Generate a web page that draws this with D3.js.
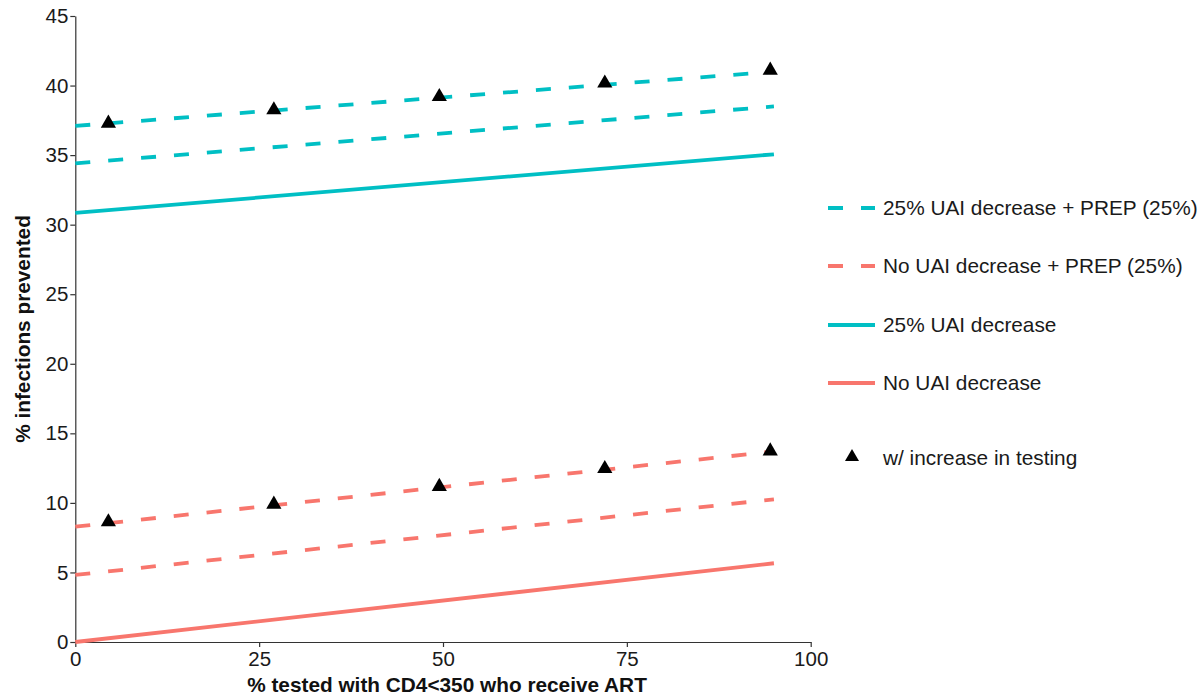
<!DOCTYPE html>
<html>
<head>
<meta charset="utf-8">
<script src="https://cdn.jsdelivr.net/npm/d3@7"></script>
<style>
  body { margin: 0; background: #fff; }
  svg { font-family: "Liberation Sans", Arial, sans-serif; }
</style>
</head>
<body>
<svg id="chart" width="1203" height="695"></svg>
<script>
// line end points (x = % tested receiving ART)
const lineX = [0, 95];
const noUai = [0, 5.66];
const noUaiPrepLow = [4.82, 10.26];
const noUaiPrepHigh = [8.29, 13.7];
const uai25 = [30.84, 35.06];
const uai25PrepLow = [34.41, 38.5];
const uai25PrepHigh = [37.1, 41.0];

// triangles: with increase in testing
const triX = [4.5, 27, 49.5, 72, 94.5];
const triLow = [8.7, 9.97, 11.24, 12.53, 13.8];
const triHigh = [37.36, 38.32, 39.27, 40.24, 41.17];

const xTicks = [0, 25, 50, 75, 100];
const yTicks = [0, 5, 10, 15, 20, 25, 30, 35, 40, 45];

const SALMON = "#F8766D";
const CYAN = "#00BFC4";

const legendItems = [
    { label: "25% UAI decrease + PREP (25%)", color: CYAN, dashed: true },
    { label: "No UAI decrease + PREP (25%)", color: SALMON, dashed: true },
    { label: "25% UAI decrease", color: CYAN, dashed: false },
    { label: "No UAI decrease", color: SALMON, dashed: false }
];

const series = [
    { y: noUai, color: SALMON, dashed: false },
    { y: noUaiPrepLow, color: SALMON, dashed: true },
    { y: noUaiPrepHigh, color: SALMON, dashed: true },
    { y: uai25, color: CYAN, dashed: false },
    { y: uai25PrepLow, color: CYAN, dashed: true },
    { y: uai25PrepHigh, color: CYAN, dashed: true }
];

const svg = d3.select("#chart");

const x = d3.scaleLinear().domain([0, 100]).range([75.3, 810.7]);
const y = d3.scaleLinear().domain([0, 45]).range([642, 16]);

// axes
const xAxis = svg.append("g")
    .attr("transform", "translate(0," + y(0) + ")")
    .call(d3.axisBottom(x).tickValues(xTicks).tickSize(5).tickPadding(1).tickSizeOuter(0));
const yAxis = svg.append("g")
    .attr("transform", "translate(" + x(0) + ",0)")
    .call(d3.axisLeft(y).tickValues(yTicks).tickSize(5).tickPadding(2).tickSizeOuter(0));

[xAxis, yAxis].forEach(a => {
    a.select(".domain").attr("stroke", "#333").attr("stroke-width", 1.2);
    a.selectAll(".tick line").attr("stroke", "#333").attr("stroke-width", 1.2);
    a.selectAll(".tick text")
        .attr("fill", "#1a1a1a")
        .style("font-size", "20.5px")
        .style("font-family", "'Liberation Sans', Arial, sans-serif");
});
xAxis.selectAll(".tick text").attr("dy", "0.9em");

// axis titles
svg.append("text")
    .attr("x", 447).attr("y", 692)
    .attr("text-anchor", "middle")
    .style("font-size", "20.8px").style("font-weight", "bold")
    .attr("fill", "#111")
    .text("% tested with CD4<350 who receive ART");

svg.append("text")
    .attr("transform", "translate(30,329) rotate(-90)")
    .attr("text-anchor", "middle")
    .style("font-size", "20.8px").style("font-weight", "bold")
    .attr("fill", "#111")
    .text("% infections prevented");

// lines
const line = d3.line()
    .x((d, i) => x(lineX[i]))
    .y(d => y(d));

svg.selectAll(".series")
    .data(series)
    .enter()
    .append("path")
    .attr("class", "series")
    .attr("d", d => line(d.y))
    .attr("fill", "none")
    .attr("stroke", d => d.color)
    .attr("stroke-width", 3.8)
    .attr("stroke-dasharray", d => d.dashed ? "15,18" : null);

// triangles
const tri = d3.symbol().type(d3.symbolTriangle).size(100);
const triPoints = triX.map((v, i) => [v, triLow[i]])
    .concat(triX.map((v, i) => [v, triHigh[i]]));

svg.selectAll(".tri")
    .data(triPoints)
    .enter()
    .append("path")
    .attr("class", "tri")
    .attr("d", tri)
    .attr("transform", d => "translate(" + x(d[0]) + "," + (y(d[1]) + 1) + ")")
    .attr("fill", "#000");

// legend
const legendY = [208, 266, 325, 383];
const legend = svg.append("g");

legendItems.forEach((item, i) => {
    let g = legend.append("g").attr("transform", "translate(0," + legendY[i] + ")");
    g.append("line")
        .attr("x1", 828).attr("x2", 875)
        .attr("y1", 0).attr("y2", 0)
        .attr("stroke", item.color)
        .attr("stroke-width", 3.8)
        .attr("stroke-dasharray", item.dashed ? "15,18" : null);
    g.append("text")
        .attr("x", 883).attr("y", 0)
        .attr("dy", "0.35em")
        .style("font-size", "20.8px")
        .attr("fill", "#1a1a1a")
        .text(item.label);
});

let tg = legend.append("g").attr("transform", "translate(0,458)");
tg.append("path")
    .attr("d", d3.symbol().type(d3.symbolTriangle).size(85))
    .attr("transform", "translate(852,-1)")
    .attr("fill", "#000");
tg.append("text")
    .attr("x", 883).attr("y", 0)
    .attr("dy", "0.35em")
    .style("font-size", "20.8px")
    .attr("fill", "#1a1a1a")
    .text("w/ increase in testing");
</script>
</body>
</html>
